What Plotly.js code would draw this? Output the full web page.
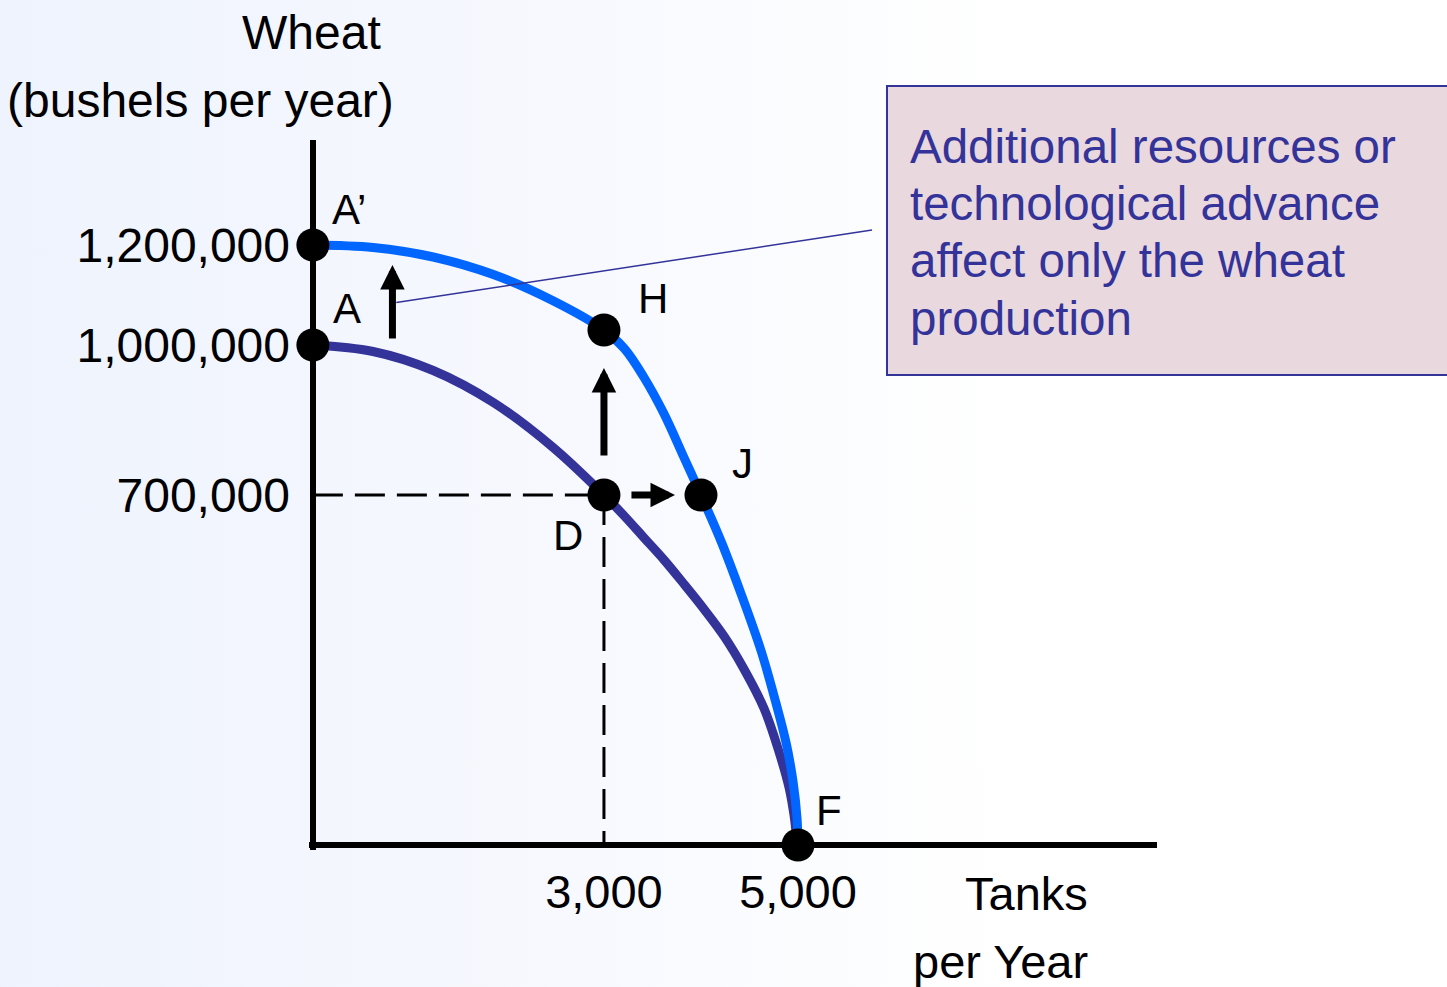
<!DOCTYPE html>
<html>
<head>
<meta charset="utf-8">
<script src="https://cdn.plot.ly/plotly-3.0.1.min.js"></script>
<style>
  html, body { margin: 0; padding: 0; }
  body { width: 1447px; height: 987px; overflow: hidden;
         background: linear-gradient(90deg, #eef3fd 0%, #f6f8fe 35%, #ffffff 70%, #ffffff 100%); }
  #chart { width: 1447px; height: 987px; }
</style>
</head>
<body>
<div id="chart"></div>
<script>
// ---- Data (tanks per year, bushels of wheat per year) ----
// Original production possibilities curve (A - D - F)
const tanksOld = [0, 620, 1240, 1860, 2470, 3000, 3210, 3410, 3620, 3820, 4030, 4240, 4440, 4650, 4800, 4910, 4960, 4990, 5000];
const wheatOld = [1000000, 987000, 949000, 885000, 796000, 700000, 658000, 615000, 570000, 523000, 472000, 417000, 353000, 273000, 189000, 113000, 58000, 10000, 0];

// New curve after the wheat-only advance (A' - H - J - F)
const tanksNew = [0, 620, 1240, 1860, 2470, 3000, 3210, 3410, 3620, 3820, 4000, 4210, 4410, 4620, 4770, 4880, 4950, 4990, 5000];
const wheatNew = [1200000, 1195000, 1176000, 1141000, 1089000, 1030000, 993000, 936000, 862000, 777000, 700000, 606000, 504000, 388000, 286000, 202000, 125000, 53000, 0];

const pointLabels = ["A’", "A", "H", "J", "D", "F"];
const pointTanks  = [0, 0, 3000, 4000, 3000, 5000];
const pointWheat  = [1200000, 1000000, 1030000, 700000, 700000, 0];

const guideTanks = [0, 3000];
const guideWheat = [700000, 0];

const xTickVals = [3000, 5000];
const xTickText = ["3,000", "5,000"];
const yTickVals = [700000, 1000000, 1200000];
const yTickText = ["700,000", "1,000,000", "1,200,000"];

const calloutLines = ["Additional resources or", "technological advance", "affect only the wheat", "production"];

// ---- Styling ----
const NAVY = '#333399';
const BLUE = '#0066FF';
const FONT = 'Liberation Sans, Arial, sans-serif';

const D = { x: pointTanks[4], y: pointWheat[4] };
const H = { x: pointTanks[2], y: pointWheat[2] };
const J = { x: pointTanks[3], y: pointWheat[3] };

const traces = [
  { x: tanksOld, y: wheatOld, mode: 'lines', line: { color: NAVY, width: 9, shape: 'spline', smoothing: 1.0 },
    cliponaxis: false, hoverinfo: 'skip' },
  { x: tanksNew, y: wheatNew, mode: 'lines', line: { color: BLUE, width: 9, shape: 'spline', smoothing: 1.0 },
    cliponaxis: false, hoverinfo: 'skip' },
  { x: [guideTanks[0], D.x], y: [D.y, D.y], mode: 'lines',
    line: { color: 'black', width: 3, dash: '30px,12px' }, hoverinfo: 'skip' },
  { x: [D.x, D.x], y: [D.y, guideWheat[1]], mode: 'lines',
    line: { color: 'black', width: 3, dash: '30px,12px' }, hoverinfo: 'skip' },
  { x: pointTanks, y: pointWheat, mode: 'markers',
    marker: { color: 'black', size: 33 }, cliponaxis: false, hoverinfo: 'skip' }
];

function arrow(x, y, ax, ay, so, sso) {
  return { x: x, y: y, ax: ax, ay: ay, xref: 'x', yref: 'y', axref: 'x', ayref: 'y',
           text: '', showarrow: true, arrowhead: 2, arrowsize: 0.7, arrowwidth: 7,
           arrowcolor: 'black', standoff: so, startstandoff: sso };
}

// label offsets (px) relative to each point
const labelShift = [[36, 36], [34, 37], [49, 32], [42, 32], [-36, -40], [31, 35]];
const labelAnns = pointLabels.map((t, i) => ({
  x: pointTanks[i], y: pointWheat[i], xref: 'x', yref: 'y', text: t, showarrow: false,
  xshift: labelShift[i][0], yshift: labelShift[i][1],
  font: { family: FONT, size: 42, color: 'black' }
}));

// callout text lines (paper coords)
const calloutY = [0.9915, 0.9099, 0.8296, 0.7479];
const calloutAnns = calloutLines.map((t, i) => ({
  xref: 'paper', yref: 'paper', x: 0.7064, y: calloutY[i], xanchor: 'left', yanchor: 'middle',
  text: t, showarrow: false, font: { family: FONT, size: 47.5, color: NAVY }
}));

const layout = {
  width: 1447, height: 987,
  margin: { l: 309, r: 290, t: 140, b: 137 },
  paper_bgcolor: 'rgba(0,0,0,0)', plot_bgcolor: 'rgba(0,0,0,0)',
  showlegend: false,
  font: { family: FONT, color: 'black' },
  xaxis: {
    range: [-40, 8700], showgrid: false, showline: false,
    zeroline: true, zerolinecolor: 'black', zerolinewidth: 6,
    tickvals: xTickVals, ticktext: xTickText, ticks: '',
    tickfont: { family: FONT, size: 47, color: 'black' }, ticklabelstandoff: 10
  },
  yaxis: {
    range: [-10000, 1410000], showgrid: false, showline: false,
    zeroline: true, zerolinecolor: 'black', zerolinewidth: 6,
    tickvals: yTickVals, ticktext: yTickText, ticks: '',
    tickfont: { family: FONT, size: 48, color: 'black' }, ticklabelstandoff: 18
  },
  shapes: [
    { type: 'rect', xref: 'paper', yref: 'paper', x0: 0.6816, x1: 1.36, y0: 0.669, y1: 1.0761,
      fillcolor: '#e9d8dd', line: { color: NAVY, width: 2 }, layer: 'above' },
    { type: 'line', xref: 'x', yref: 'y', x0: 860, y0: 1085000, x1: 5763, y1: 1230000,
      line: { color: NAVY, width: 1.5 }, layer: 'above' }
  ],
  annotations: [
    arrow(820, 1160000, 820, 1010000, 0, 0),
    arrow(H.x, H.y, D.x, D.y, 38, 38),
    arrow(J.x, J.y, D.x, D.y, 26, 26),
    ...labelAnns,
    ...calloutAnns,
    { xref: 'paper', yref: 'paper', x: 0.0873, y: 1.152, xanchor: 'right', yanchor: 'middle',
      text: 'Wheat', showarrow: false, font: { family: FONT, size: 48, color: 'black' } },
    { xref: 'paper', yref: 'paper', x: 0.1026, y: 1.0563, xanchor: 'right', yanchor: 'middle',
      text: '(bushels per year)', showarrow: false, font: { family: FONT, size: 48, color: 'black' } },
    { xref: 'paper', yref: 'paper', x: 0.921, y: -0.0606, xanchor: 'right', yanchor: 'middle',
      text: 'Tanks', showarrow: false, font: { family: FONT, size: 47, color: 'black' } },
    { xref: 'paper', yref: 'paper', x: 0.921, y: -0.1577, xanchor: 'right', yanchor: 'middle',
      text: 'per Year', showarrow: false, font: { family: FONT, size: 47, color: 'black' } }
  ]
};

Plotly.newPlot('chart', traces, layout, { displayModeBar: false, staticPlot: true });
</script>
</body>
</html>
